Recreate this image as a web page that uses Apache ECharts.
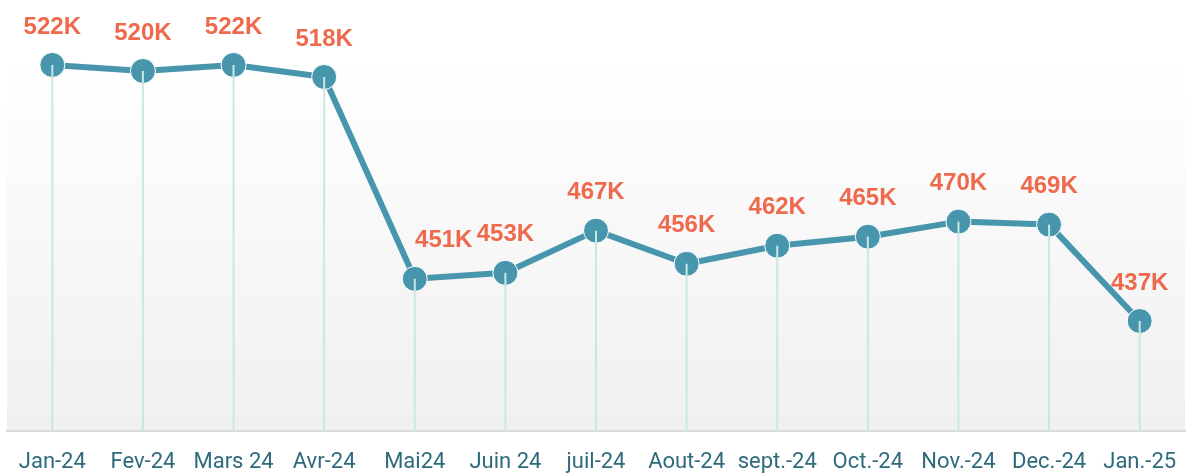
<!DOCTYPE html>
<html>
<head>
<meta charset="utf-8">
<script src="https://cdn.jsdelivr.net/npm/echarts@6/dist/echarts.min.js"></script>
<style>
  html, body { margin: 0; padding: 0; background: #fff; }
  #chart { width: 1186px; height: 473px; }
</style>
</head>
<body>
<div id="chart"></div>
<script>
// data
const months = ['Jan-24', 'Fev-24', 'Mars 24', 'Avr-24', 'Mai24', 'Juin 24', 'juil-24',
    'Aout-24', 'sept.-24', 'Oct.-24', 'Nov.-24', 'Dec.-24', 'Jan.-25']
const values = [522, 520, 522, 518, 451, 453, 467, 456, 462, 465, 470, 469, 437]
// horizontal nudge for labels that sit beside the point
const labelShift = [0, 0, 0, 0, 29, 0, 0, 0, 0, 0, 0, 0, 0]

const myChart = echarts.init(document.getElementById('chart'))

const lineData = values.map((v, i) => ({
    value: v,
    label: { offset: [labelShift[i], 0] }
}))

const option = {
    animation: false,
    grid: {
        left: 7,
        right: 1,
        top: 58,
        bottom: 41,
        show: true,
        borderWidth: 0,
        backgroundColor: {
            type: 'linear', x: 0, y: 0, x2: 0, y2: 1,
            colorStops: [
                { offset: 0, color: '#ffffff' },
                { offset: 1, color: '#f0f0f0' }
            ]
        }
    },
    xAxis: {
        type: 'category',
        data: months,
        boundaryGap: true,
        axisLine: { lineStyle: { color: '#d9d9d9', width: 2 } },
        axisTick: { show: false },
        axisLabel: {
            interval: 0,
            color: '#2d6a7c',
            fontFamily: 'Roboto',
            fontSize: 22,
            margin: 20
        }
    },
    yAxis: {
        type: 'value',
        min: 400.5,
        max: 524.3,
        show: false,
        splitLine: { show: false }
    },
    series: [
        {
            type: 'line',
            data: lineData,
            z: 2,
            symbol: 'circle',
            symbolSize: 25,
            itemStyle: { color: '#4896ad', borderColor: '#ffffff', borderWidth: 1 },
            lineStyle: { color: '#4896ad', width: 6 },
            label: {
                show: true,
                position: 'top',
                distance: 13,
                formatter: p => p.value + 'K',
                color: '#ef6a4c',
                fontFamily: 'Liberation Sans',
                fontWeight: 'bold',
                fontSize: 24
            }
        },
        {
            // thin drop lines from each point to the axis
            type: 'bar',
            data: values,
            barWidth: 2,
            z: 3,
            itemStyle: { color: '#cbe7e3' },
            silent: true
        }
    ]
}

myChart.setOption(option)
</script>
</body>
</html>
